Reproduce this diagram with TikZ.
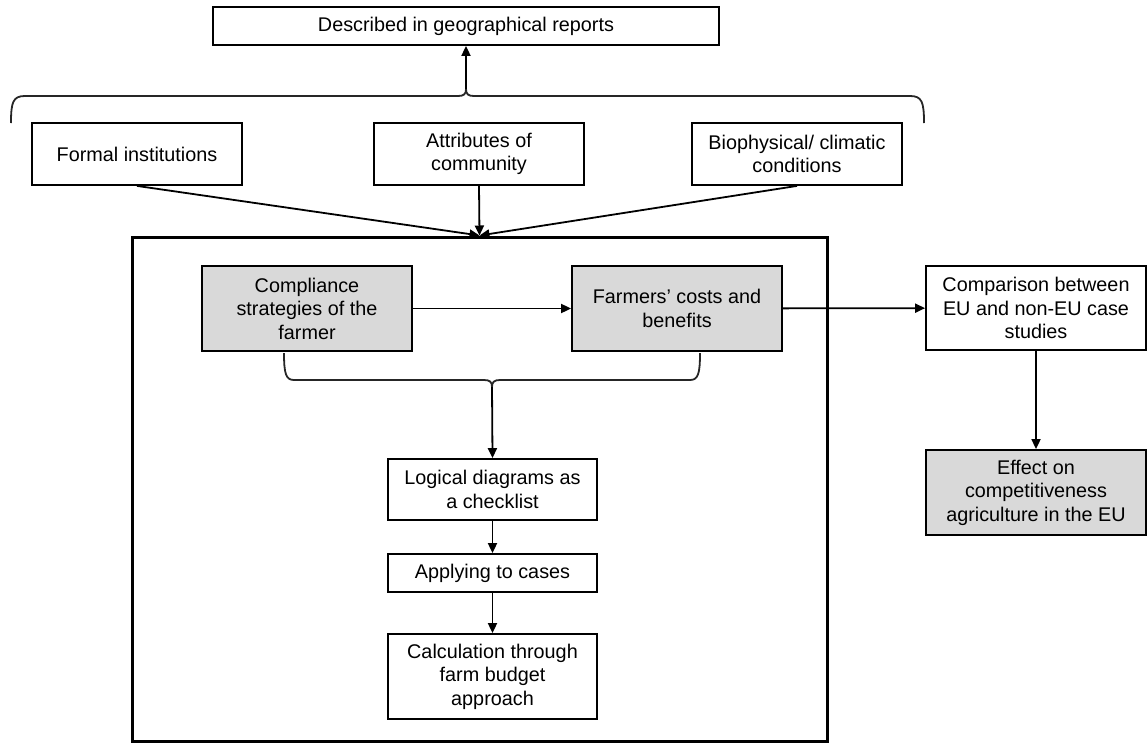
\documentclass[tikz,border=0pt]{standalone}
\usepackage{fontspec}
\setmainfont{Liberation Sans}
\usetikzlibrary{arrows.meta, positioning}
\definecolor{cfill}{HTML}{D9D9D9}
\definecolor{cline}{HTML}{262626}
\tikzset{
  every picture/.style={line width=1.8pt},
  box/.style={draw=black, fill=#1, align=center, inner sep=0pt, minimum width=210pt, font=\fontsize{19.8}{23.5}\selectfont},
  box/.default=white,
  arrow/.style={-{Triangle[length=10pt, width=9pt]}, draw=black, line width=1.8pt},
  bracket/.style={draw=cline, line width=1.8pt},
}

\begin{document}
\begin{tikzpicture}[x=1pt, y=-1pt]
  \useasboundingbox (0,0) rectangle (1147,744);
  % top row
  \node[box, minimum width=506pt, minimum height=38pt] (rep) at (466,26) {Described in geographical reports};
  \node[box, minimum height=62pt] (inst) at (137,154) {Formal institutions};
  \node[box, minimum height=62pt] (comm) at (479,154) {Attributes of\\community};
  \node[box, minimum height=62pt] (bio) at (797,154) {Biophysical/ climatic\\conditions};
  % upper brace
  \coordinate (topcusp) at (466,89);
  \draw[bracket] (11,123) .. controls (11,102) and (13,96) .. (25,96) -- (458,96)
    .. controls (464,96) and (466,94) .. (topcusp)
    .. controls (466,94) and (468,96) .. (474,96) -- (910,96)
    .. controls (922,96) and (924,102) .. (924,123);
  \draw[arrow] (topcusp) -- (rep.south);
  % frame
  \node[draw, line width=3pt, inner sep=0pt, minimum width=695pt, minimum height=504pt] (frame) at (479.5,489) {};
  \draw[arrow] (inst.south) -- (frame.north);
  \draw[arrow] (comm.south) -- (frame.north);
  \draw[arrow] (bio.south) -- (frame.north);
  % inside the frame
  \node[box=cfill, minimum height=85pt] (comp) at (307,308.5) {Compliance\\strategies of the\\farmer};
  \node[box=cfill, minimum height=85pt] (cost) at (677,308.5) {Farmers’ costs and\\benefits};
  \draw[arrow] (comp) -- (cost);
  \coordinate (midcusp) at (492,387);
  \draw[bracket] (284,353) .. controls (284,374) and (286,380) .. (294,380) -- (484,380)
    .. controls (490,380) and (492,382) .. (midcusp)
    .. controls (492,382) and (494,380) .. (500,380) -- (690,380)
    .. controls (698,380) and (700,374) .. (700,353);
  \node[box, minimum width=209pt, minimum height=61pt] (logic) at (492.5,489.5) {Logical diagrams as\\a checklist};
  \node[box, minimum width=209pt, minimum height=38pt] (apply) at (492.5,573) {Applying to cases};
  \node[box, minimum width=209pt, minimum height=85pt] (calc) at (492.5,676.5) {Calculation through\\farm budget\\approach};
  \draw[arrow] (midcusp) -- (logic.north);
  \draw[arrow] (logic) -- (apply);
  \draw[arrow] (apply) -- (calc);
  % right column
  \node[box, minimum width=220pt, minimum height=84pt] (compar) at (1036,308) {Comparison between\\EU and non-EU case\\studies};
  \node[box=cfill, minimum width=220pt, minimum height=85pt] (effect) at (1036,492.5) {Effect on\\competitiveness\\agriculture in the EU};
  \draw[arrow] (cost) -- (compar);
  \draw[arrow] (compar) -- (effect);
\end{tikzpicture}
\end{document}
